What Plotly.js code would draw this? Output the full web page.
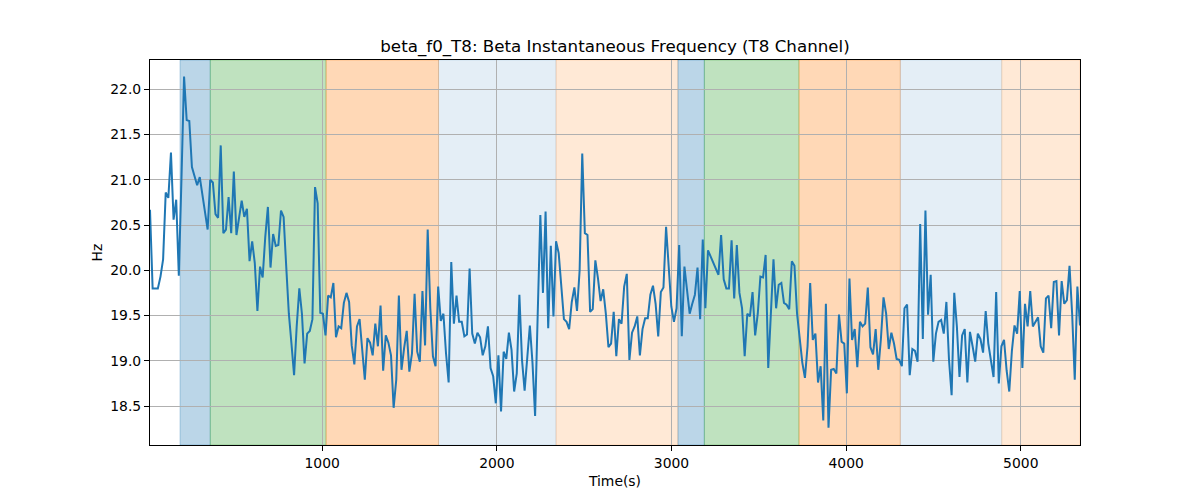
<!DOCTYPE html>
<html>
<head>
<meta charset="utf-8">
<script src="https://cdn.plot.ly/plotly-3.0.1.min.js"></script>
<style>html,body{margin:0;padding:0;background:#fff;}#chart{width:1200px;height:500px;}</style>
</head>
<body>
<div id="chart"></div>
<script>
// Sample times (s), one every 15 s
const times = [
14,29,44,59,74,89,104,119,134,149,
164,179,194,209,224,239,254,269,284,299,
314,329,344,359,374,389,404,419,434,449,
464,479,494,509,524,539,554,569,584,599,
614,629,644,659,674,689,704,719,734,749,
764,779,794,809,824,839,854,869,884,899,
914,929,944,959,974,989,1004,1019,1034,1049,
1064,1079,1094,1109,1124,1139,1154,1169,1184,1199,
1214,1229,1244,1259,1274,1289,1304,1319,1334,1349,
1364,1379,1394,1409,1424,1439,1454,1469,1484,1499,
1514,1529,1544,1559,1574,1589,1604,1619,1634,1649,
1664,1679,1694,1709,1724,1739,1754,1769,1784,1799,
1814,1829,1844,1859,1874,1889,1904,1919,1934,1949,
1964,1979,1994,2009,2024,2039,2054,2069,2084,2099,
2114,2129,2144,2159,2174,2189,2204,2219,2234,2249,
2264,2279,2294,2309,2324,2339,2354,2369,2384,2399,
2414,2429,2444,2459,2474,2489,2504,2519,2534,2549,
2564,2579,2594,2609,2624,2639,2654,2669,2684,2699,
2714,2729,2744,2759,2774,2789,2804,2819,2834,2849,
2864,2879,2894,2909,2924,2939,2954,2969,2984,2999,
3014,3029,3044,3059,3074,3089,3104,3119,3134,3149,
3164,3179,3194,3209,3224,3239,3254,3269,3284,3299,
3314,3329,3344,3359,3374,3389,3404,3419,3434,3449,
3464,3479,3494,3509,3524,3539,3554,3569,3584,3599,
3614,3629,3644,3659,3674,3689,3704,3719,3734,3749,
3764,3779,3794,3809,3824,3839,3854,3869,3884,3899,
3914,3929,3944,3959,3974,3989,4004,4019,4034,4049,
4064,4079,4094,4109,4124,4139,4154,4169,4184,4199,
4214,4229,4244,4259,4274,4289,4304,4319,4334,4349,
4364,4379,4394,4409,4424,4439,4454,4469,4484,4499,
4514,4529,4544,4559,4574,4589,4604,4619,4634,4649,
4664,4679,4694,4709,4724,4739,4754,4769,4784,4799,
4814,4829,4844,4859,4874,4889,4904,4919,4934,4949,
4964,4979,4994,5009,5024,5039,5054,5069,5084,5099,
5114,5129,5144,5159,5174,5189,5204,5219,5234,5249,
5264,5279,5294,5309,5324,5339
];

// Beta instantaneous frequency (Hz)
const freqHz = [
20.67,19.80,19.80,19.80,19.93,20.12,20.86,20.80,21.30,20.56,
20.78,19.94,21.00,22.14,21.66,21.65,21.14,21.03,20.94,21.03,
20.85,20.67,20.45,21.00,20.97,20.62,20.58,21.38,20.41,20.45,
20.81,20.41,21.09,20.39,20.60,20.77,20.59,20.68,20.10,20.32,
20.08,19.55,20.04,19.92,20.37,20.70,20.03,20.40,20.27,20.28,
20.66,20.59,20.04,19.52,19.19,18.84,19.38,19.80,19.52,18.97,
19.30,19.33,19.46,20.92,20.74,19.53,19.52,19.28,19.72,19.70,
19.86,19.26,19.38,19.36,19.64,19.75,19.65,19.17,18.96,19.38,
19.46,19.12,18.79,19.25,19.20,19.06,19.41,19.16,19.61,18.89,
19.28,19.20,19.06,18.48,18.79,19.72,18.90,19.14,19.33,18.88,
19.08,19.74,19.10,18.99,19.77,19.17,20.45,19.58,19.05,18.94,
19.82,19.44,19.52,19.08,18.76,20.09,19.41,19.72,19.43,
19.43,19.27,19.29,20.02,19.30,19.19,19.31,19.26,19.06,19.16,
19.38,18.92,18.83,18.53,19.06,18.44,19.10,19.02,19.31,19.12,
18.66,18.86,19.73,19.01,18.67,19.05,19.39,18.98,18.39,19.52,
20.61,19.75,20.65,19.36,20.27,19.49,20.32,20.19,19.82,19.46,
19.43,19.35,19.65,19.81,19.55,20.00,21.29,20.41,20.39,19.54,
19.57,20.11,19.91,19.66,19.79,19.52,19.15,19.19,19.54,
19.05,19.46,19.41,19.82,19.96,19.01,19.31,19.38,19.49,19.06,
19.35,19.47,19.47,19.73,19.83,19.63,19.27,19.76,19.81,20.48,
20.00,19.60,19.43,19.58,20.28,19.27,20.04,19.75,19.52,19.63,
19.73,20.03,19.46,20.34,19.58,20.22,20.15,20.08,20.01,19.95,
20.39,19.90,19.80,19.80,20.33,19.69,20.28,19.75,19.58,19.05,
19.52,19.49,19.76,19.28,19.52,19.93,19.92,20.17,18.92,
19.49,20.12,19.58,19.84,19.86,19.64,19.62,19.57,20.10,20.05,
19.52,19.23,18.98,18.81,19.16,19.86,19.23,19.30,18.76,18.94,
18.34,19.63,18.26,18.90,18.91,18.86,19.51,19.21,19.19,18.64,
19.91,19.23,19.35,18.93,19.43,19.38,19.41,19.81,19.15,19.07,
19.35,18.90,19.24,19.70,19.52,19.13,19.31,19.19,19.02,19.01,
18.94,19.58,19.62,18.84,19.13,19.11,18.99,20.51,19.24,
20.66,19.51,19.95,18.99,19.30,19.43,19.45,19.30,19.65,19.01,
18.62,19.75,19.38,18.82,19.28,19.35,18.76,19.32,19.16,18.99,
19.30,19.24,19.09,19.55,19.19,18.99,18.82,19.76,18.75,19.16,
19.23,18.89,18.66,19.11,19.39,19.30,19.77,18.92,19.63,19.38,
19.77,19.38,19.43,19.48,19.16,19.09,19.69,19.72,19.36,19.87,
19.88,19.28,19.88,19.63,19.67,20.05,19.52,18.79,19.82,19.39
];

// Shaded phases: start, end (s) and colour
const phaseStarts = [186, 359, 1022, 1666, 2339, 3037, 3188, 3730, 4310, 4891];
const phaseEnds   = [359, 1022, 1666, 2339, 3037, 3188, 3730, 4310, 4891, 5339];
const phaseColors = [
  'rgba(31,119,180,0.3)', 'rgba(44,160,44,0.3)', 'rgba(255,127,14,0.3)',
  'rgba(31,119,180,0.12)', 'rgba(255,127,14,0.17)',
  'rgba(31,119,180,0.3)', 'rgba(44,160,44,0.3)', 'rgba(255,127,14,0.3)',
  'rgba(31,119,180,0.12)', 'rgba(255,127,14,0.17)'
];

const xTicks = [1000, 2000, 3000, 4000, 5000];
const yTicks = [18.5, 19.0, 19.5, 20.0, 20.5, 21.0, 21.5, 22.0];

const shapes = phaseStarts.map((s, i) => ({
  type: 'rect', xref: 'x', yref: 'paper',
  x0: s, x1: phaseEnds[i], y0: 0, y1: 1,
  fillcolor: phaseColors[i],
  line: {color: phaseColors[i], width: 1},
  layer: 'below'
}));

const font = 'DejaVu Sans, sans-serif';

const trace = {
  x: times, y: freqHz, type: 'scatter', mode: 'lines',
  line: {color: '#1f77b4', width: 2},
  hoverinfo: 'x+y'
};

const layout = {
  width: 1200, height: 500,
  margin: {l: 150, r: 120, t: 60, b: 55},
  paper_bgcolor: '#ffffff', plot_bgcolor: '#ffffff',
  showlegend: false,
  font: {family: font, color: '#000', size: 13.9},
  title: {
    text: 'beta_f0_T8: Beta Instantaneous Frequency (T8 Channel)',
    font: {family: font, size: 16.7, color: '#000'},
    x: 0.5, xref: 'paper', xanchor: 'center',
    y: 1 - 46/500, yref: 'container', yanchor: 'middle'
  },
  xaxis: {
    range: [times[0], times[times.length - 1]],
    tickvals: xTicks, tickformat: 'd',
    ticks: 'outside', ticklen: 5, tickwidth: 1, tickcolor: '#000',
    showline: true, linecolor: '#000', linewidth: 1, mirror: true,
    showgrid: true, gridcolor: '#b0b0b0', gridwidth: 1,
    zeroline: false,
    tickfont: {family: font, size: 13.9, color: '#000'},
    title: {text: 'Time(s)', font: {family: font, size: 13.9, color: '#000'}, standoff: 6}
  },
  yaxis: {
    range: [18.069, 22.324],
    tickvals: yTicks, tickformat: '.1f',
    ticks: 'outside', ticklen: 5, tickwidth: 1, tickcolor: '#000',
    showline: true, linecolor: '#000', linewidth: 1, mirror: true,
    showgrid: true, gridcolor: '#b0b0b0', gridwidth: 1,
    zeroline: false,
    tickfont: {family: font, size: 13.9, color: '#000'},
    title: {text: 'Hz', font: {family: font, size: 13.9, color: '#000'}, standoff: 4}
  },
  shapes: shapes
};

Plotly.newPlot('chart', [trace], layout, {displayModeBar: false, staticPlot: true});
</script>
</body>
</html>
